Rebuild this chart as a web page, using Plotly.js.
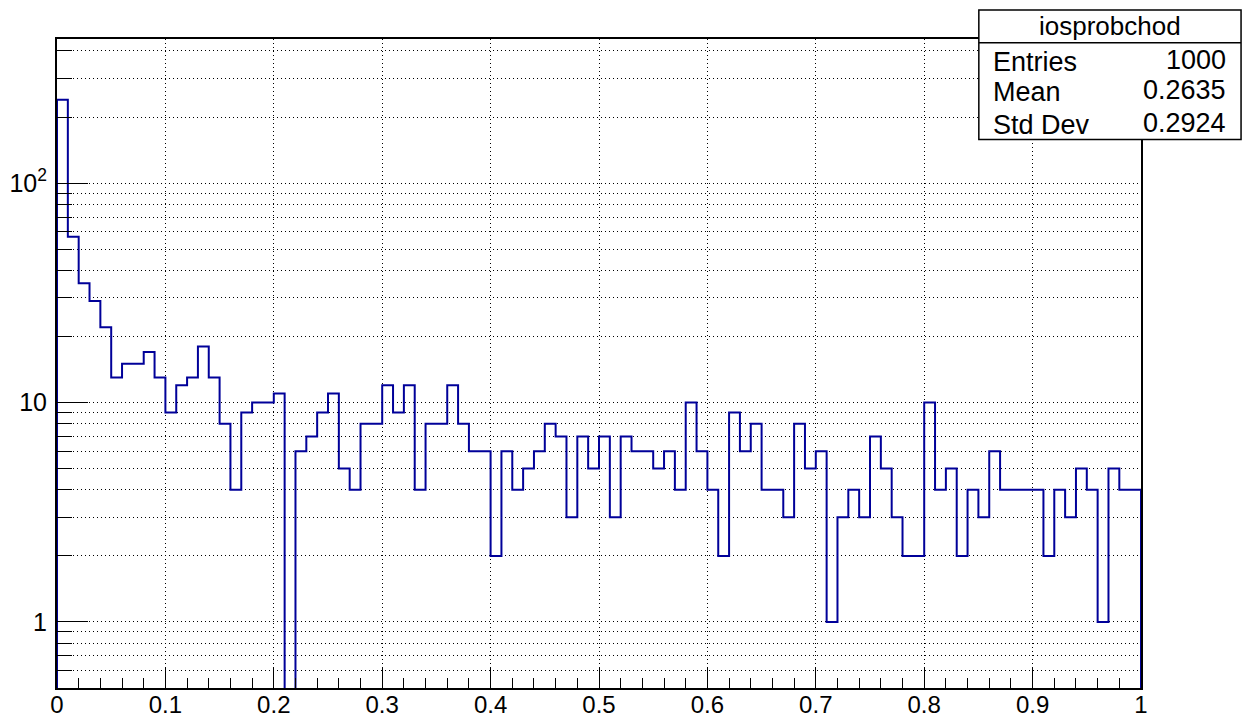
<!DOCTYPE html>
<html>
<head>
<meta charset="utf-8">
<script src="https://cdn.plot.ly/plotly-3.0.1.min.js"></script>
<style>
  html, body { margin: 0; padding: 0; background: #ffffff; }
  #plot { width: 1257px; height: 720px; }
</style>
</head>
<body>
<div id="plot"></div>
<script>
// Histogram "iosprobchod": 100 bins on [0, 1]
const histName = "iosprobchod";
const binLow = 0;
const binHigh = 1;
const binCounts = [
  240, 57, 35, 29, 22, 13, 15, 15, 17, 13,
  9, 12, 13, 18, 13, 8, 4, 9, 10, 10,
  11, 0, 6, 7, 9, 11, 5, 4, 8, 8,
  12, 9, 12, 4, 8, 8, 12, 8, 6, 6,
  2, 6, 4, 5, 6, 8, 7, 3, 7, 5,
  7, 3, 7, 6, 6, 5, 6, 4, 10, 6,
  4, 2, 9, 6, 8, 4, 4, 3, 8, 5,
  6, 1, 3, 4, 3, 7, 5, 3, 2, 2,
  10, 4, 5, 2, 4, 3, 6, 4, 4, 4,
  4, 2, 4, 3, 5, 4, 1, 5, 4, 4
];

// Statistics box contents
const statLabels = ["Entries", "Mean", "Std Dev"];
const statValues = ["1000", "0.2635", "0.2924"];

// Axis ticks
const xTickVals = [0, 0.1, 0.2, 0.3, 0.4, 0.5, 0.6, 0.7, 0.8, 0.9, 1];
const xTickText = ["0", "0.1", "0.2", "0.3", "0.4", "0.5", "0.6", "0.7", "0.8", "0.9", "1"];
const yTickVals = [1, 10, 100];
const yTickText = ["1", "10", "10<sup>2</sup>"];
const yMinorVals = [0.6, 0.7, 0.8, 0.9, 2, 3, 4, 5, 6, 7, 8, 9,
                    20, 30, 40, 50, 60, 70, 80, 90, 200, 300, 400];

// Build the step outline of the histogram; empty bins drop below the axis floor
const nBins = binCounts.length;
const width = (binHigh - binLow) / nBins;
const below = 1e-3;
const stepX = [binLow];
const stepY = [below];
binCounts.forEach(function (c, i) {
  const lo = binLow + i * width;
  const hi = lo + width;
  const v = c > 0 ? c : below;
  stepX.push(lo, hi);
  stepY.push(v, v);
});
stepX.push(binHigh);
stepY.push(below);

const font = "Liberation Sans, Arial, Helvetica, sans-serif";
const gridDash = "1px,3px";

const trace = {
  type: "scatter",
  mode: "lines",
  x: stepX,
  y: stepY,
  line: { color: "#000099", width: 2, shape: "linear" },
  hoverinfo: "skip",
  showlegend: false
};

// Stats box geometry in paper units (the box sticks out past the right frame)
const boxX0 = 0.8504, boxX1 = 1.0923, boxTop = 1.0447, boxBottom = 0.8451, boxSep = 0.9943;
const rowY = [0.9650, 0.9180, 0.8670];

const annotations = [{
  xref: "paper", yref: "paper", x: (boxX0 + boxX1) / 2, y: (boxTop + boxSep) / 2,
  xanchor: "center", yanchor: "middle", showarrow: false,
  text: histName, font: { family: font, size: 26, color: "#000000" }
}];
statLabels.forEach(function (lab, i) {
  annotations.push({
    xref: "paper", yref: "paper", x: boxX0 + 0.0115, y: rowY[i],
    xanchor: "left", yanchor: "middle", showarrow: false,
    text: lab, font: { family: font, size: 27, color: "#000000" }
  });
  annotations.push({
    xref: "paper", yref: "paper", x: boxX1 - 0.0125, y: rowY[i] + 0.003,
    xanchor: "right", yanchor: "middle", showarrow: false,
    text: statValues[i], font: { family: font, size: 27, color: "#000000" }
  });
});

const layout = {
  width: 1257,
  height: 720,
  margin: { l: 57, r: 116, t: 39, b: 32, pad: 0 },
  paper_bgcolor: "#ffffff",
  plot_bgcolor: "#ffffff",
  showlegend: false,
  font: { family: font, size: 25, color: "#000000" },
  xaxis: {
    range: [binLow, binHigh],
    tickmode: "array",
    tickvals: xTickVals,
    ticktext: xTickText,
    ticks: "inside",
    ticklen: 21,
    tickwidth: 1,
    tickcolor: "#000000",
    showgrid: true,
    gridcolor: "#000000",
    gridwidth: 1,
    griddash: gridDash,
    minor: { dtick: 0.02, tick0: 0, ticks: "inside", ticklen: 10, tickwidth: 1, tickcolor: "#000000", showgrid: false },
    showline: true,
    linecolor: "#000000",
    linewidth: 2,
    mirror: true,
    zeroline: false,
    ticklabelstandoff: -6,
    tickfont: { family: font, size: 24, color: "#000000" },
    fixedrange: true
  },
  yaxis: {
    type: "log",
    range: [Math.log10(0.5), 2.6566],
    tickmode: "array",
    tickvals: yTickVals,
    ticktext: yTickText,
    ticks: "inside",
    ticklen: 31,
    tickwidth: 1,
    tickcolor: "#000000",
    showgrid: true,
    gridcolor: "#000000",
    gridwidth: 1,
    griddash: gridDash,
    minor: {
      tickmode: "array", tickvals: yMinorVals, ticks: "inside", ticklen: 15, tickwidth: 1,
      tickcolor: "#000000", showgrid: true, gridcolor: "#000000", gridwidth: 1, griddash: gridDash
    },
    showline: true,
    linecolor: "#000000",
    linewidth: 2,
    mirror: true,
    zeroline: false,
    ticklabelstandoff: 3,
    tickfont: { family: font, size: 25, color: "#000000" },
    fixedrange: true
  },
  shapes: [
    {
      type: "rect", xref: "paper", yref: "paper",
      x0: boxX0, x1: boxX1, y0: boxBottom, y1: boxTop,
      fillcolor: "#ffffff", line: { color: "#000000", width: 1.5 }, layer: "above"
    },
    {
      type: "line", xref: "paper", yref: "paper",
      x0: boxX0, x1: boxX1, y0: boxSep, y1: boxSep,
      line: { color: "#000000", width: 1.5 }, layer: "above"
    }
  ],
  annotations: annotations
};

Plotly.newPlot("plot", [trace], layout, { staticPlot: true, displayModeBar: false });
</script>
</body>
</html>
